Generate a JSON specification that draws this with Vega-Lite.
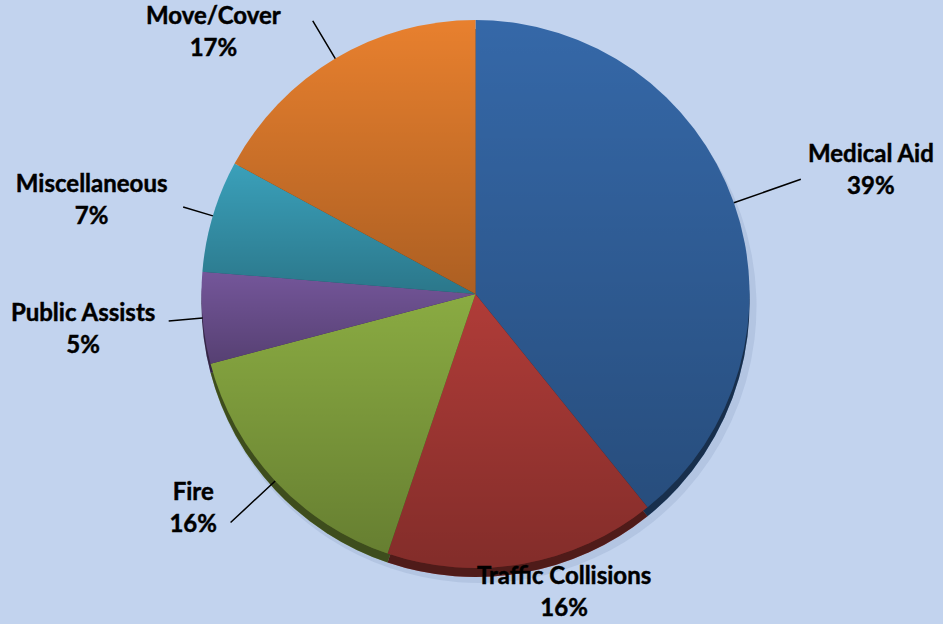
{
  "$schema": "https://vega.github.io/schema/vega-lite/v6.json",
  "width": 943,
  "height": 624,
  "autosize": {"type": "none"},
  "padding": 0,
  "background": "#C2D3EE",
  "config": {
    "view": {
      "stroke": null,
      "fill": {
        "gradient": "linear",
        "x1": 0, "y1": 0, "x2": 1, "y2": 1,
        "stops": [
          {"offset": 0, "color": "#D3DFF4"},
          {"offset": 0.5, "color": "#BBCEEB"},
          {"offset": 1, "color": "#D3DFF4"}
        ]
      }
    }
  },
  "data": {
    "values": [
      {"category": "Medical Aid", "share": 0.392},
      {"category": "Traffic Collisions", "share": 0.160},
      {"category": "Fire", "share": 0.157},
      {"category": "Public Assists", "share": 0.054},
      {"category": "Miscellaneous", "share": 0.066},
      {"category": "Move/Cover", "share": 0.171}
    ]
  },
  "transform": [{"window": [{"op": "row_number", "as": "rank"}]}],
  "encoding": {
    "theta": {"field": "share", "type": "quantitative", "stack": true},
    "order": {"field": "rank", "type": "quantitative"}
  },
  "layer": [
    {
      "mark": {"type": "arc", "radius": 277, "xOffset": 8, "yOffset": -6, "color": "#6F86AD", "opacity": 0.18}
    },
    {
      "mark": {"type": "arc", "radius": 274, "xOffset": 4, "yOffset": -9},
      "encoding": {
        "color": {
          "field": "category", "type": "nominal", "legend": null,
          "scale": {
            "domain": ["Medical Aid", "Traffic Collisions", "Fire", "Public Assists", "Miscellaneous", "Move/Cover"],
            "range": ["#3568A8", "#B03C38", "#8AAB42", "#74569A", "#3AA0BA", "#E8802E"]
          }
        }
      }
    },
    {
      "mark": {"type": "arc", "radius": 274, "xOffset": 4, "yOffset": -9, "color": "#000000", "opacity": 0.55}
    },
    {
      "mark": {"type": "arc", "radius": 274, "xOffset": 4, "yOffset": -18},
      "encoding": {
        "color": {"field": "category", "type": "nominal", "legend": null}
      }
    },
    {
      "mark": {
        "type": "arc", "radius": 274, "xOffset": 4, "yOffset": -18,
        "fill": {
          "gradient": "linear", "x1": 0, "y1": 0, "x2": 0, "y2": 1,
          "stops": [
            {"offset": 0, "color": "rgba(0,0,0,0)"},
            {"offset": 1, "color": "rgba(0,0,0,0.26)"}
          ]
        }
      }
    },
    {
      "mark": {
        "type": "arc",
        "radius": {"expr": "datum.category === 'Medical Aid' ? 345 : datum.category === 'Traffic Collisions' ? 274 : datum.category === 'Fire' ? 335 : datum.category === 'Public Assists' ? 308 : datum.category === 'Miscellaneous' ? 305 : 318"},
        "radius2": 274,
        "padAngle": 3.1,
        "filled": false,
        "stroke": "#000000",
        "strokeWidth": 1.5,
        "xOffset": 4,
        "yOffset": -18
      },
      "encoding": {
        "strokeOpacity": {"condition": {"test": "datum.category === 'Traffic Collisions'", "value": 0}, "value": 1}
      }
    },
    {
      "mark": {
        "type": "text",
        "font": "Lato", "fontWeight": "bold", "fontSize": 24, "color": "#000000",
        "stroke": "#000000", "strokeWidth": 0.45,
        "align": "center", "baseline": "middle",
        "radius": {"expr": "datum.category === 'Medical Aid' ? 414 : datum.category === 'Traffic Collisions' ? 312 : datum.category === 'Fire' ? 355 : datum.category === 'Public Assists' ? 394 : datum.category === 'Miscellaneous' ? 395 : 370"},
        "thetaOffset": {"expr": "datum.category === 'Medical Aid' ? 0.038 : datum.category === 'Traffic Collisions' ? -0.112 : datum.category === 'Fire' ? 0.0995 : datum.category === 'Public Assists' ? -0.003 : datum.category === 'Miscellaneous' ? -0.051 : -0.25"},
        "xOffset": 4, "yOffset": -18, "dy": -16
      },
      "encoding": {"text": {"field": "category", "type": "nominal"}}
    },
    {
      "mark": {
        "type": "text",
        "font": "Lato", "fontWeight": "bold", "fontSize": 24, "color": "#000000",
        "stroke": "#000000", "strokeWidth": 0.45,
        "align": "center", "baseline": "middle",
        "radius": {"expr": "datum.category === 'Medical Aid' ? 414 : datum.category === 'Traffic Collisions' ? 312 : datum.category === 'Fire' ? 355 : datum.category === 'Public Assists' ? 394 : datum.category === 'Miscellaneous' ? 395 : 370"},
        "thetaOffset": {"expr": "datum.category === 'Medical Aid' ? 0.038 : datum.category === 'Traffic Collisions' ? -0.112 : datum.category === 'Fire' ? 0.0995 : datum.category === 'Public Assists' ? -0.003 : datum.category === 'Miscellaneous' ? -0.051 : -0.25"},
        "xOffset": 4, "yOffset": -18, "dy": 16
      },
      "encoding": {"text": {"field": "share", "type": "quantitative", "format": ".0%"}}
    }
  ]
}
